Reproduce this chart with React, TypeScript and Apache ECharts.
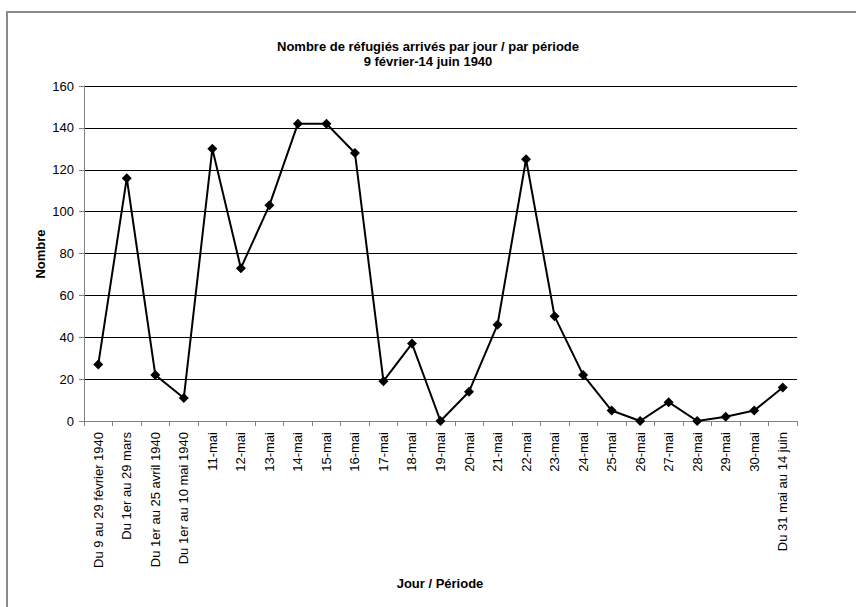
import React, { useEffect, useRef } from "react";
import * as echarts from "echarts";

const categories = [
  "Du 9 au 29 février 1940",
  "Du 1er au 29 mars",
  "Du 1er au 25 avril 1940",
  "Du 1er au 10 mai 1940",
  "11-mai", "12-mai", "13-mai", "14-mai", "15-mai", "16-mai", "17-mai",
  "18-mai", "19-mai", "20-mai", "21-mai", "22-mai", "23-mai", "24-mai",
  "25-mai", "26-mai", "27-mai", "28-mai", "29-mai", "30-mai",
  "Du 31 mai au 14 juin",
];

const refugees = [27, 116, 22, 11, 130, 73, 103, 142, 142, 128, 19, 37, 0, 14, 46, 125, 50, 22, 5, 0, 9, 0, 2, 5, 16];

const titleText = "Nombre de réfugiés arrivés par jour / par période\n9 février-14 juin 1940";
const yName = "Nombre";
const xName = "Jour / Période";

const FONT = "'Liberation Sans', Arial, sans-serif";

export default function App() {
  const ref = useRef<HTMLDivElement>(null);
  useEffect(() => {
    if (!ref.current) return;
    const chart = echarts.init(ref.current, null, { renderer: "svg" });
    chart.setOption({
      animation: false,
      backgroundColor: "#ffffff",
      textStyle: { fontFamily: FONT },
      title: {
        text: titleText,
        left: "center",
        top: 34,
        padding: 5,
        textStyle: { fontSize: 13, fontWeight: "bold", color: "#000", fontFamily: FONT, lineHeight: 15 },
      },
      graphic: [
        {
          type: "rect",
          shape: { x: 7, y: 12, width: 860, height: 610 },
          style: { fill: "none", stroke: "#8a8a8a", lineWidth: 2 },
          silent: true,
        },
        {
          type: "text",
          x: 40,
          y: 254,
          rotation: Math.PI / 2,
          style: { text: yName, fontSize: 13, fontWeight: "bold", fill: "#000", fontFamily: FONT, align: "center", verticalAlign: "middle" },
        },
        {
          type: "text",
          x: 440,
          y: 583,
          style: { text: xName, fontSize: 13, fontWeight: "bold", fill: "#000", fontFamily: FONT, align: "center", verticalAlign: "middle" },
        },
      ],
      grid: { left: 84, right: 59, top: 86, bottom: 186, containLabel: false },
      xAxis: {
        type: "category",
        data: categories,
        boundaryGap: true,
        axisLine: { lineStyle: { color: "#808080", width: 1 } },
        axisTick: { show: true, interval: 0, length: 5, lineStyle: { color: "#808080" } },
        axisLabel: { interval: 0, rotate: 90, fontSize: 13, color: "#000", margin: 11, fontFamily: FONT },
        splitLine: { show: false },
      },
      yAxis: {
        type: "value",
        min: 0,
        max: 160,
        interval: 20,
        axisLine: { show: true, lineStyle: { color: "#808080", width: 1 } },
        axisTick: { show: true, length: 5, lineStyle: { color: "#808080" } },
        axisLabel: { fontSize: 13, color: "#000", margin: 10, fontFamily: FONT },
        splitLine: { show: true, lineStyle: { color: "#000", width: 1 } },
      },
      series: [
        {
          type: "line",
          data: refugees,
          symbol: "diamond",
          symbolSize: 10,
          lineStyle: { color: "#000", width: 2 },
          itemStyle: { color: "#000" },
        },
      ],
    });
    return () => chart.dispose();
  }, []);
  return (
    <div
      ref={ref}
      style={{ position: "fixed", left: 0, top: 0, width: 856, height: 607 }}
    />
  );
}
